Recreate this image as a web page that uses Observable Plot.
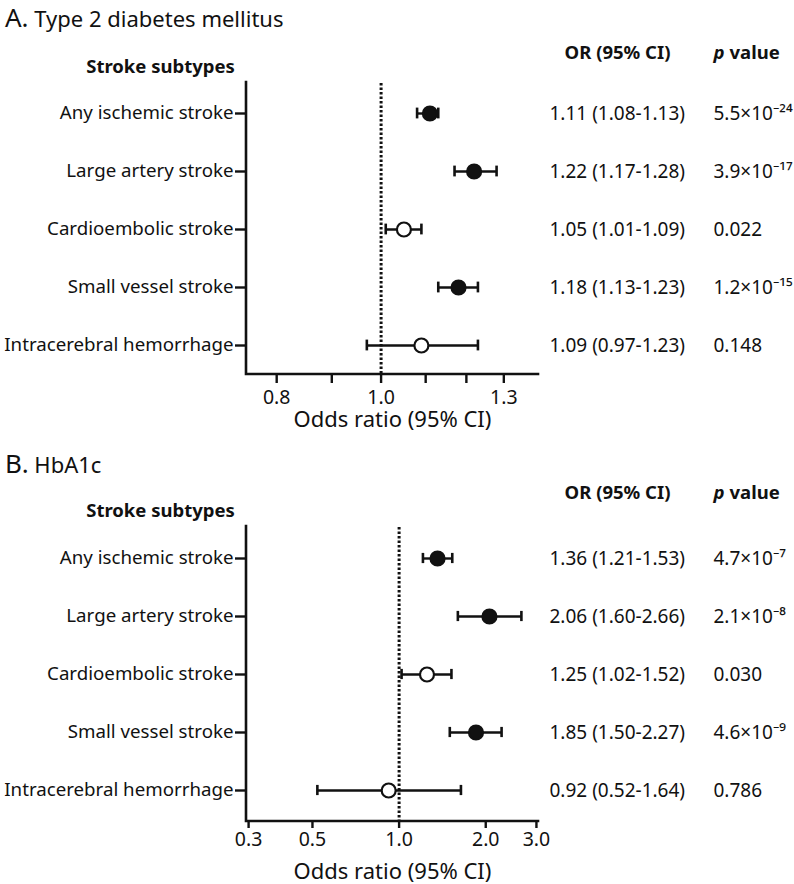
<!DOCTYPE html>
<html><head><meta charset="utf-8">
<script src="https://cdn.jsdelivr.net/npm/d3@7"></script>
<script src="https://cdn.jsdelivr.net/npm/@observablehq/plot@0.6"></script>
<style>
body{margin:0;background:#fff;font-family:"Noto Sans",sans-serif;color:#111;}
.title{width:794px;font-size:22px;white-space:nowrap;box-sizing:border-box;padding-left:5px;overflow:visible;}
.title .lt{font-size:26px;}
svg{display:block;}
</style></head><body>
<div class="title" style="height:36px;line-height:34px"><span class="lt">A.</span> Type 2 diabetes mellitus</div>
<div id="chartA"></div>
<div class="title" style="height:44px;line-height:47px"><span class="lt">B.</span> HbA1c</div>
<div id="chartB"></div>
<script>
const subtypes = ["Any ischemic stroke","Large artery stroke","Cardioembolic stroke","Small vessel stroke","Intracerebral hemorrhage"];

const t2dOR = [1.11, 1.22, 1.05, 1.18, 1.09];
const t2dLo = [1.08, 1.17, 1.01, 1.13, 0.97];
const t2dHi = [1.13, 1.28, 1.09, 1.23, 1.23];
const t2dP  = ["5.5×10⁻²⁴", "3.9×10⁻¹⁷", "0.022", "1.2×10⁻¹⁵", "0.148"];
const t2dSig = [true, true, false, true, false];
const t2dDomain = [0.75, 1.4];
const t2dTicks = [0.8, 0.9, 1.0, 1.1, 1.2, 1.3];
const t2dTickLabels = ["0.8", "", "1.0", "", "", "1.3"];

const hbaOR = [1.36, 2.06, 1.25, 1.85, 0.92];
const hbaLo = [1.21, 1.60, 1.02, 1.50, 0.52];
const hbaHi = [1.53, 2.66, 1.52, 2.27, 1.64];
const hbaP  = ["4.7×10⁻⁷", "2.1×10⁻⁸", "0.030", "4.6×10⁻⁹", "0.786"];
const hbaSig = [true, true, false, true, false];
const hbaDomain = [0.295, 3.05];
const hbaTicks = [0.3, 0.5, 1.0, 2.0, 3.0];
const hbaTickLabels = ["0.3", "0.5", "1.0", "2.0", "3.0"];

const INK = "#111";
const FONT = "'Noto Sans', sans-serif";

function axisLines(sw) {
  return function () {
    const dims = Array.from(arguments).find(a => a && typeof a === "object" && "marginLeft" in a && "width" in a);
    const {width, height, marginLeft, marginRight, marginTop, marginBottom} = dims;
    const p = document.createElementNS("http://www.w3.org/2000/svg", "path");
    p.setAttribute("d", `M${marginLeft},${marginTop - 1}V${height - marginBottom}H${width - marginRight}`);
    p.setAttribute("fill", "none");
    p.setAttribute("stroke", INK);
    p.setAttribute("stroke-width", sw);
    p.setAttribute("stroke-linecap", "square");
    return p;
  };
}

function panel(cfg) {
  const rows = subtypes.map((name, i) => ({
    name, or: cfg.or[i], lo: cfg.lo[i], hi: cfg.hi[i], p: cfg.p[i], sig: cfg.sig[i],
    orText: `${cfg.or[i].toFixed(2)} (${cfg.lo[i].toFixed(2)}-${cfg.hi[i].toFixed(2)})`
  }));
  const tickRows = cfg.ticks.map((v, i) => ({v, label: cfg.tickLabels[i]})).filter(d => d.label !== "");
  const frameH = cfg.height - cfg.marginTop - cfg.marginBottom;
  const band = frameH / subtypes.length;
  const capInset = (band - 11) / 2;
  const T = (extra) => Object.assign({fill: INK, lineAnchor: "middle", fontSize: 18.5}, extra);
  return Plot.plot({
    width: 794,
    height: cfg.height,
    marginLeft: 246,
    marginRight: 256,
    marginTop: cfg.marginTop,
    marginBottom: cfg.marginBottom,
    style: {fontFamily: FONT, fontSize: "18.5px", color: INK, background: "#fff", overflow: "visible"},
    x: {type: "log", domain: cfg.domain},
    y: {type: "band", domain: subtypes, padding: 0},
    marks: [
      Plot.ruleX([1], {stroke: INK, strokeWidth: 3, strokeDasharray: "2.4,2.1"}),
      axisLines(2.6),
      Plot.axisY({tickSize: 11, tickPadding: 2, strokeWidth: 2.4, label: null, fontSize: 18.7, fill: INK}),
      Plot.axisX({ticks: cfg.ticks, tickFormat: () => "", tickSize: cfg.tickSize, strokeWidth: 2.4, label: null}),
      Plot.text(tickRows, T({x: "v", text: "label", frameAnchor: "bottom", dy: cfg.tickDy, textAnchor: "middle", fontSize: 19.5})),
      Plot.ruleY(rows, {x1: "lo", x2: "hi", y: "name", stroke: INK, strokeWidth: 2.4}),
      Plot.tickX(rows, {x: "lo", y: "name", stroke: INK, strokeWidth: 2.6, insetTop: capInset, insetBottom: capInset}),
      Plot.tickX(rows, {x: "hi", y: "name", stroke: INK, strokeWidth: 2.6, insetTop: capInset, insetBottom: capInset}),
      Plot.dot(rows, {x: "or", y: "name", r: 7, fill: d => d.sig ? INK : "#fff", stroke: INK, strokeWidth: 2.2}),
      Plot.text(rows, T({y: "name", text: "orText", frameAnchor: "right", dx: 11, textAnchor: "start", fontSize: 19})),
      Plot.text(rows, T({y: "name", text: "p", frameAnchor: "right", dx: 175, textAnchor: "start", fontSize: 19})),
      Plot.text(["Stroke subtypes"], T({frameAnchor: "top-left", dx: -86, dy: cfg.subDy, textAnchor: "middle", fontWeight: "bold"})),
      Plot.text(["OR (95% CI)"], T({frameAnchor: "top-right", dx: 79, dy: cfg.headDy, textAnchor: "middle", fontWeight: "bold"})),
      Plot.text(["p"], T({frameAnchor: "top-right", dx: 175, dy: cfg.headDy, textAnchor: "start", fontWeight: "bold", fontStyle: "italic"})),
      Plot.text(["value"], T({frameAnchor: "top-right", dx: 191, dy: cfg.headDy, textAnchor: "start", fontWeight: "bold"})),
      Plot.text(["Odds ratio (95% CI)"], T({frameAnchor: "bottom", dy: cfg.titleDy, textAnchor: "middle", fontSize: 22}))
    ]
  });
}

document.getElementById("chartA").append(panel({
  or: t2dOR, lo: t2dLo, hi: t2dHi, p: t2dP, sig: t2dSig,
  domain: t2dDomain, ticks: t2dTicks, tickLabels: t2dTickLabels,
  height: 404, marginTop: 47, marginBottom: 66, tickSize: 9, tickDy: 23,
  headDy: -30, subDy: -16, titleDy: 45
}));
document.getElementById("chartB").append(panel({
  or: hbaOR, lo: hbaLo, hi: hbaHi, p: hbaP, sig: hbaSig,
  domain: hbaDomain, ticks: hbaTicks, tickLabels: hbaTickLabels,
  height: 400, marginTop: 43, marginBottom: 63, tickSize: 7, tickDy: 18,
  headDy: -34, subDy: -16, titleDy: 50
}));
</script>
</body></html>
